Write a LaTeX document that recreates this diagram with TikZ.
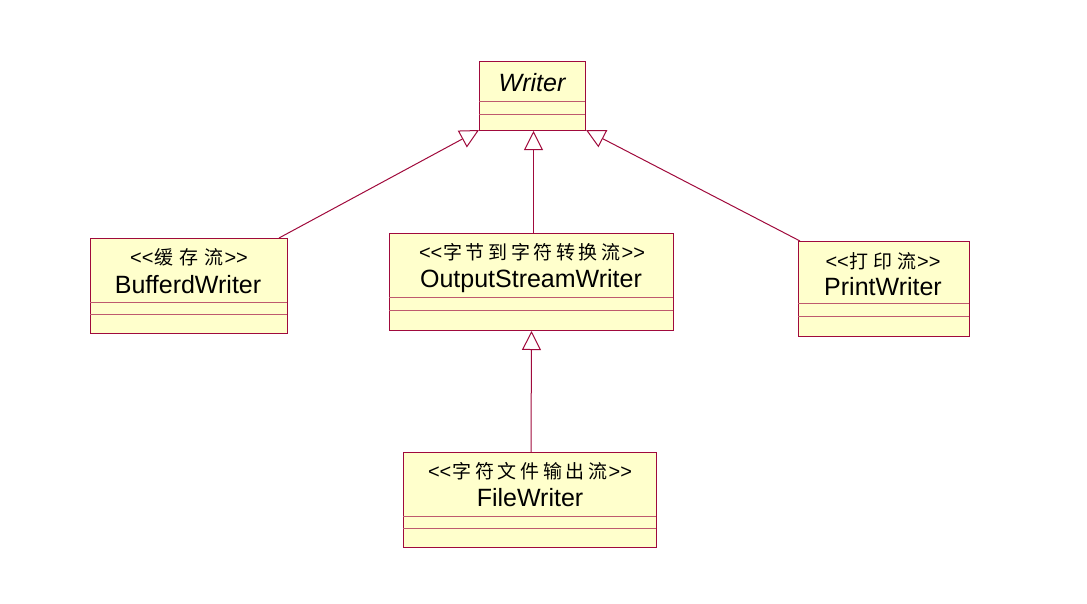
\documentclass[tikz,border=0pt]{standalone}
\usepackage{fontspec}
\setmainfont{Liberation Sans}
\newfontfamily\cjk{Noto Sans CJK SC}
\usetikzlibrary{arrows.meta,calc}
\definecolor{umlborder}{RGB}{160,10,60}
\definecolor{umlsep}{RGB}{190,90,110}
\definecolor{umlfill}{RGB}{255,255,204}
\newcommand{\stereo}[2]{{\def\cg{\hspace{#1}}\fontsize{20}{22}\selectfont <\kern0pt<\kern1pt{\cjk\fontsize{19}{22}\selectfont #2}\kern1pt>\kern0pt>}}
\tikzset{
  classbox/.style={draw=umlborder, fill=umlfill, line width=1pt, inner sep=0pt, anchor=north west},
  cname/.style={font=\fontsize{25}{28}\selectfont, inner sep=0pt},
  stype/.style={inner sep=0pt},
  sepline/.style={draw=umlsep, line width=1pt},
  inherit/.style={draw=umlborder, line width=1pt, -{Triangle[open, length=19pt, width=19pt, fill=white]}},
}
\begin{document}
\begin{tikzpicture}[x=1pt,y=-1pt]
\useasboundingbox (0,0) rectangle (1087,603);
% Writer
\node[classbox, minimum width=106pt, minimum height=69pt] (writer) at (479,61) {};
\draw[sepline] (479,101) -- (585,101) (479,114) -- (585,114);
\node[cname, font=\fontsize{25}{28}\selectfont\itshape] (writername) at (532,83) {Writer};
% BufferdWriter
\node[classbox, minimum width=197pt, minimum height=95pt] (buf) at (90,238) {};
\draw[sepline] (90,302) -- (287,302) (90,314) -- (287,314);
\node[stype] (bufst) at (189,257) {\stereo{6pt}{缓\cg 存\cg 流}};
\node[cname] (bufname) at (188,285) {BufferdWriter};
% OutputStreamWriter
\node[classbox, minimum width=284pt, minimum height=97pt] (osw) at (389,233) {};
\draw[sepline] (389,297) -- (673,297) (389,310) -- (673,310);
\node[stype] (oswst) at (532,252) {\stereo{3.6pt}{字\cg 节\cg 到\cg 字\cg 符\cg 转\cg 换\cg 流}};
\node[cname] (oswname) at (531,281) {OutputStreamWriter};
% PrintWriter
\node[classbox, minimum width=171pt, minimum height=95pt] (print) at (798,241) {};
\draw[sepline] (798,303) -- (969,303) (798,316) -- (969,316);
\node[stype] (printst) at (883,261) {\stereo{4.6pt}{打\cg 印\cg 流}};
\node[cname] (printname) at (883,287) {PrintWriter};
% FileWriter
\node[classbox, minimum width=253pt, minimum height=95pt] (file) at (403,452) {};
\draw[sepline] (403,516) -- (656,516) (403,528) -- (656,528);
\node[stype] (filest) at (530,471) {\stereo{3.7pt}{字\cg 符\cg 文\cg 件\cg 输\cg 出\cg 流}};
\node[cname] (filename) at (530,498) {FileWriter};
% connectors
\draw[inherit] ($(buf.north east)+(-9,0)$) -- ($(writer.south west)+(0,-1)$);
\draw[inherit] ($(osw.north)+(2,0)$) -- ($(writer.south)+(1,0)$);
\draw[inherit] ($(print.north west)+(2,0)$) -- ($(writer.south east)+(0,-1)$);
\draw[inherit] ($(file.north)+(1,0)$) -- ($(osw.south)+(0,0)$);
\end{tikzpicture}
\end{document}
